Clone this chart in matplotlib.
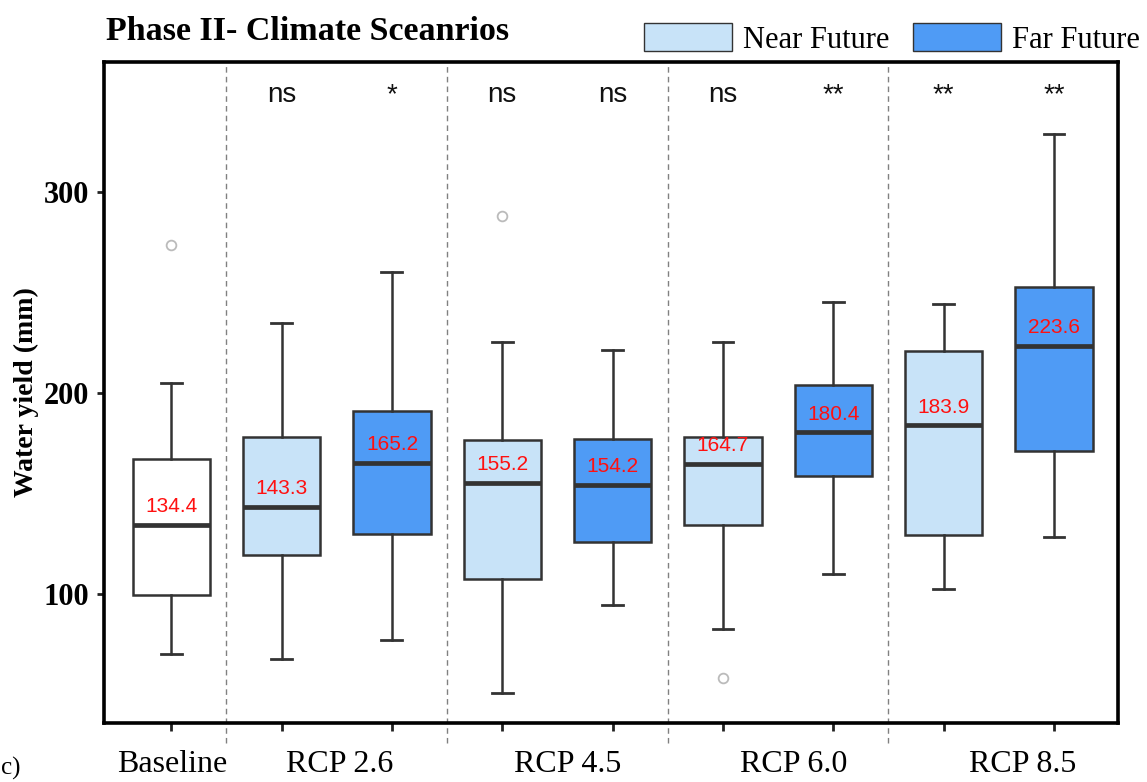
import matplotlib
matplotlib.use('Agg')
import matplotlib.pyplot as plt
from matplotlib.patches import Patch
from matplotlib.transforms import blended_transform_factory

# box statistics (water yield, mm)
periods = ['Baseline', 'Near', 'Far', 'Near', 'Far', 'Near', 'Far', 'Near', 'Far']
medians = [134.4, 143.3, 165.2, 155.2, 154.2, 164.7, 180.4, 183.9, 223.6]
q1 = [99.5, 119.4, 129.9, 107.5, 125.9, 134.3, 158.7, 129.4, 171.1]
q3 = [167.2, 178.1, 191.0, 176.6, 177.1, 178.1, 204.0, 220.9, 252.7]
whisker_low = [70.1, 67.7, 77.1, 50.7, 94.5, 82.6, 110.0, 102.5, 128.4]
whisker_high = [205.0, 234.8, 260.2, 225.4, 221.4, 225.4, 245.3, 244.3, 328.9]
outliers = [[273.6], [], [], [288.1], [], [58.2], [], [], []]
significance = ['', 'ns', '*', 'ns', 'ns', 'ns', '**', '**', '**']

scenarios = ['Baseline', 'RCP 2.6', 'RCP 4.5', 'RCP 6.0', 'RCP 8.5']
scenario_label_x = [1.01, 2.53, 4.59, 6.64, 8.72]

colors = {'Baseline': 'white', 'Near': '#C8E3F8', 'Far': '#4F9BF5'}
edge = '#333333'
serif = 'Liberation Serif'
sans = 'Liberation Sans'

fig = plt.figure(figsize=(11.47, 7.82), dpi=100)
ax = fig.add_axes([104 / 1147, 59 / 782, 1014 / 1147, 661 / 782])

positions = list(range(1, len(medians) + 1))
stats = []
for i in range(len(medians)):
    stats.append({'med': medians[i], 'q1': q1[i], 'q3': q3[i],
                  'whislo': whisker_low[i], 'whishi': whisker_high[i],
                  'fliers': outliers[i]})

bp = ax.bxp(stats, positions=positions, widths=0.70, capwidths=0.19,
            patch_artist=True, showfliers=True,
            boxprops=dict(edgecolor=edge, linewidth=1.8),
            medianprops=dict(color=edge, linewidth=3.4),
            whiskerprops=dict(color=edge, linewidth=1.8),
            capprops=dict(color=edge, linewidth=2.0),
            flierprops=dict(marker='o', markerfacecolor='none',
                            markeredgecolor='#BBBBBB', markersize=7,
                            markeredgewidth=1.3))
for patch, p in zip(bp['boxes'], periods):
    patch.set_facecolor(colors[p])

# median labels in red above the median line
for x, m in zip(positions, medians):
    ax.annotate(f'{m:.1f}', (x, m), xytext=(0, 13), textcoords='offset points',
                ha='center', va='center', color='#FF1010', fontsize=15,
                family=sans)

# significance markers
for x, s in zip(positions, significance):
    if s:
        ax.text(x, 344.8, s, ha='center', va='baseline', fontsize=20,
                family=sans, color='#111111')

# dashed separators between scenarios
for sep in [1.5, 3.5, 5.5, 7.5]:
    ax.axvline(sep, ymin=-0.03, ymax=1, color='#808080', lw=1,
               dashes=(4, 3), clip_on=False, zorder=0)

ax.set_xlim(0.39, 9.58)
ax.set_ylim(35.8, 364.7)
ax.set_yticks([100, 200, 300])
ax.set_xticks(positions)
ax.set_xticklabels([''] * len(positions))
ax.tick_params(axis='both', direction='out', width=2, color='#222222')
ax.tick_params(axis='y', length=5, pad=6)
ax.tick_params(axis='x', length=6)
for lab in ax.get_yticklabels():
    lab.set_family(serif)
    lab.set_fontweight('bold')
    lab.set_fontsize(22)
for sp in ax.spines.values():
    sp.set_linewidth(2.6)
    sp.set_color('black')

trans = blended_transform_factory(ax.transData, fig.transFigure)
for x, name in zip(scenario_label_x, scenarios):
    ax.text(x, 1 - 765 / 782, name, transform=trans, ha='center', va='center',
            fontsize=23, family=serif)

ax.set_ylabel('Water yield (mm)', family=serif, fontweight='bold', fontsize=20)
ax.yaxis.set_label_coords(-0.064, 0.5)

fig.text(106 / 1147, 1 - 40 / 782, 'Phase II- Climate Sceanrios', family=serif,
         fontweight='bold', fontsize=24.5, ha='left', va='baseline')

handles = [Patch(facecolor=colors['Near'], edgecolor=edge, linewidth=1),
           Patch(facecolor=colors['Far'], edgecolor=edge, linewidth=1)]
fig.legend(handles, ['Near Future', 'Far Future'], ncol=2, frameon=False,
           loc='center right', bbox_to_anchor=(1140 / 1147, 1 - 39 / 782),
           prop={'family': serif, 'size': 22}, handlelength=2.9,
           handleheight=1.0, handletextpad=0.36, columnspacing=0.75,
           borderpad=0, borderaxespad=0)

fig.text(0.001, 0.003, 'c)', family=serif, fontsize=18,
         ha='left', va='bottom')

fig.savefig('out.png', dpi=100)
